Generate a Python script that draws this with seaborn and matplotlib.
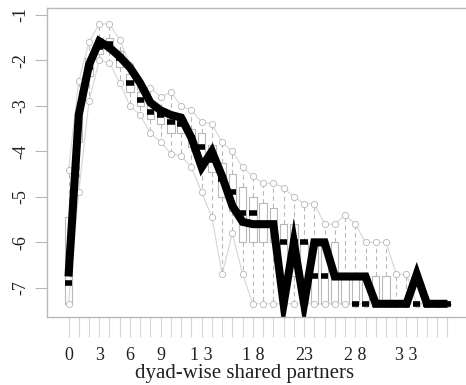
import matplotlib
matplotlib.use("Agg")
import matplotlib.pyplot as plt
import seaborn as sns
import numpy as np
import pandas as pd

# ---- data (log-odds of dyad-wise shared partners) ----
esp = list(range(38))
observed = [-6.75, -3.2, -2.1, -1.58, -1.72, -1.92, -2.16, -2.5, -2.93, -3.1,
            -3.2, -3.26, -3.7, -4.35, -4.0, -4.55, -5.2, -5.55, -5.6, -5.6,
            -5.6, -7.35, -6.0, -7.35, -6.0, -6.0, -6.75, -6.75, -6.75, -6.75,
            -7.35, -7.35, -7.35, -7.35, -6.7, -7.35, -7.35, -7.35]
sim_high = [-4.4, -2.45, -1.6, -1.2, -1.2, -1.55, -2.1, -2.6, -2.6, -2.8,
            -2.7, -3.0, -3.1, -3.35, -3.4, -3.8, -4.0, -4.35, -4.55, -4.7,
            -4.7, -4.8, -5.0, -5.15, -5.15, -5.6, -5.6, -5.4, -5.6, -6.0,
            -6.0, -6.0, -6.7, -6.7, -7.35, -7.35, -7.35, -7.35]
sim_low = [-7.35, -4.9, -2.9, -2.0, -2.05, -2.5, -3.0, -3.2, -3.6, -3.8,
           -4.05, -4.1, -4.35, -4.9, -5.45, -6.7, -5.8, -6.7, -7.35, -7.35,
           -7.35, -7.35, -7.35, -7.35, -7.35, -7.35, -7.35, -7.35, -7.35, -7.35,
           -7.35, -7.35, -7.35, -7.35, -7.35, -7.35, -7.35, -7.35]
sim_median = [-6.9, -3.4, -2.15, -1.7, -1.65, -1.95, -2.5, -2.87, -3.13, -3.2,
              -3.35, -3.4, -3.7, -3.9, -4.2, -4.6, -4.9, -5.35, -5.35, -5.6,
              -5.6, -6.0, -6.0, -6.0, -6.75, -6.75, -6.75, -6.75, -7.35, -7.35,
              -7.35, -7.35, -7.35, -7.35, -7.35, -7.35, -7.35, -7.35]
sim_q3 = [-5.45, -3.1, -1.95, -1.5, -1.5, -1.8, -2.3, -2.7, -2.95, -3.05,
          -3.2, -3.25, -3.5, -3.6, -3.85, -4.25, -4.5, -4.78, -5.0, -5.13,
          -5.25, -5.6, -5.6, -6.0, -6.0, -6.0, -6.0, -6.75, -6.75, -6.75,
          -6.75, -6.75, -7.35, -7.35, -7.35, -7.35, -7.35, -7.35]
sim_q1 = [-7.35, -3.8, -2.35, -1.85, -1.8, -2.15, -2.7, -3.0, -3.3, -3.4,
          -3.6, -3.6, -3.9, -4.2, -4.45, -5.0, -5.3, -6.0, -6.0, -6.0,
          -6.0, -6.75, -6.75, -7.35, -7.35, -7.35, -7.35, -7.35, -7.35, -7.35,
          -7.35, -7.35, -7.35, -7.35, -7.35, -7.35, -7.35, -7.35]
tick_labels = {0: "0", 3: "3", 6: "6", 9: "9", 13: "1 3", 18: "1 8",
               23: "23", 28: "2 8", 33: "3 3"}
y_ticks = [-1, -2, -3, -4, -5, -6, -7]
x_title = "dyad-wise shared partners"

sns.set_style("white")
plt.rcParams['font.family'] = ['Liberation Serif', 'DejaVu Serif']

fig = plt.figure(figsize=(4.66, 3.85), dpi=100)
W, H = 466, 385
left, right, top, bottom = 47, 470, 8, 317
ax = fig.add_axes([left / W, 1 - bottom / H, (right - left) / W, (bottom - top) / H])

gray = "#b8b8b8"
light = "#d6d6d6"

stats = []
for i in range(len(esp)):
    stats.append(dict(med=sim_median[i], q1=sim_q1[i], q3=sim_q3[i],
                      whislo=sim_low[i], whishi=sim_high[i], fliers=[]))
ax.bxp(stats, positions=esp, widths=0.72, showfliers=False, manage_ticks=False,
       boxprops=dict(color=gray, linewidth=0.8),
       whiskerprops=dict(color=gray, linewidth=0.8, linestyle=(0, (4, 3))),
       capprops=dict(color=gray, linewidth=0.8),
       medianprops=dict(color="black", linewidth=4, solid_capstyle="butt"),
       capwidths=0.45)

df = pd.DataFrame({"esp": esp, "obs": observed, "hi": sim_high, "lo": sim_low})
for col in ["hi", "lo"]:
    sns.lineplot(data=df, x="esp", y=col, ax=ax, color=light, linewidth=0.8,
                 marker="o", markersize=4.5, markerfacecolor="white",
                 markeredgecolor=gray, markeredgewidth=0.6, estimator=None, sort=False)
sns.lineplot(data=df, x="esp", y="obs", ax=ax, color="black", linewidth=5.8,
             estimator=None, sort=False, solid_joinstyle="miter", solid_capstyle="butt")

ax.set_xlim(-2.1, 39.2)
ax.set_ylim(-7.64, -0.85)
ax.set_xticks(esp)
ax.set_xticklabels([tick_labels.get(k, "") for k in esp], fontsize=13)
ax.set_yticks(y_ticks)
ax.set_yticklabels([str(v) for v in y_ticks], fontsize=13, rotation=90, va="center")
ax.tick_params(axis="x", bottom=True, direction="out", length=14.5, width=0.8,
               color=light, pad=7, labelcolor="#202020")
ax.tick_params(axis="y", left=True, direction="out", length=8.5, width=0.8,
               color=gray, pad=4, labelcolor="#202020")
ax.set_xlabel(x_title, fontsize=15, color="#202020")
ax.xaxis.set_label_coords((245 - left) / (right - left), (bottom - 364) / (bottom - top),
                          transform=ax.transAxes)
ax.set_ylabel("")
for s in ["left", "top", "bottom"]:
    ax.spines[s].set_color(gray)
    ax.spines[s].set_linewidth(1.0)
ax.spines["right"].set_visible(False)

fig.savefig("out.png", dpi=100)
